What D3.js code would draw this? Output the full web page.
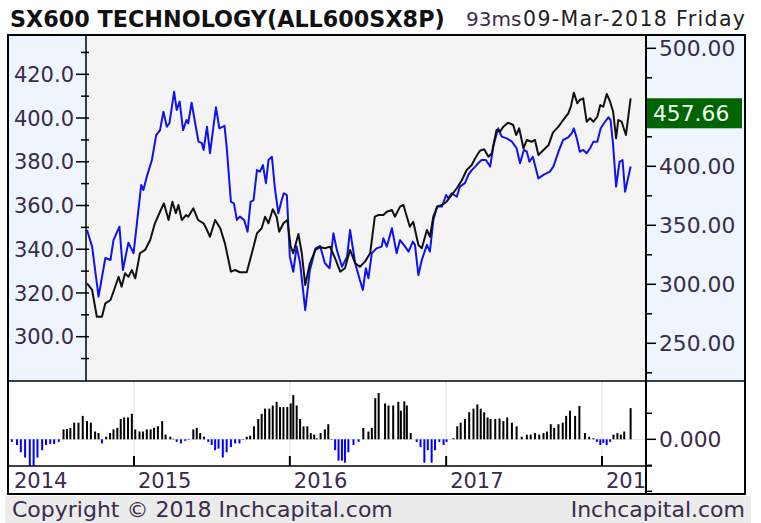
<!DOCTYPE html>
<html>
<head>
<meta charset="utf-8">
<script src="https://cdn.jsdelivr.net/npm/d3@7"></script>
<style>
  body { margin: 0; background: #fff; }
  svg { display: block; font-family: "DejaVu Sans", Verdana, sans-serif; }
</style>
</head>
<body>
<div id="chart"></div>
<script>
// relative strength (blue, left axis)
const blueDates = ["2014-09-13","2014-09-25","2014-10-10","2014-10-26","2014-11-07","2014-11-14","2014-11-28","2014-12-06","2014-12-19","2014-12-31",
  "2015-01-18","2015-01-23","2015-01-31","2015-02-12","2015-02-22","2015-03-03","2015-03-11","2015-03-19","2015-03-25","2015-04-05",
  "2015-04-11","2015-04-18","2015-04-26","2015-05-04","2015-05-08","2015-05-16","2015-05-23","2015-06-01","2015-06-09","2015-06-13",
  "2015-06-21","2015-06-28","2015-07-12","2015-07-20","2015-08-01","2015-08-06","2015-08-16","2015-08-23","2015-08-30","2015-09-06",
  "2015-09-16","2015-09-24","2015-10-01","2015-10-08","2015-10-16","2015-10-23","2015-10-30","2015-11-06","2015-11-12","2015-11-20",
  "2015-11-27","2015-12-05","2015-12-13","2015-12-18","2015-12-25","2016-01-01","2016-01-09","2016-01-17","2016-01-25","2016-02-06",
  "2016-02-17","2016-03-01","2016-03-12","2016-03-23","2016-04-03","2016-04-12","2016-04-20","2016-05-02","2016-05-14","2016-05-21",
  "2016-06-02","2016-06-13","2016-06-20","2016-06-27","2016-07-03","2016-07-11","2016-07-22","2016-08-03","2016-08-07","2016-08-15",
  "2016-08-27","2016-09-07","2016-09-15","2016-09-27","2016-10-05","2016-10-15","2016-10-20","2016-10-28","2016-11-05","2016-11-17",
  "2016-11-24","2016-12-02","2016-12-11","2016-12-22","2017-01-01","2017-01-06","2017-01-14","2017-01-26","2017-02-02","2017-02-14",
  "2017-02-22","2017-03-02","2017-03-10","2017-03-17","2017-03-25","2017-04-04","2017-04-14","2017-04-22","2017-05-03","2017-05-11",
  "2017-05-23","2017-06-04","2017-06-15","2017-06-23","2017-07-02","2017-07-09","2017-07-15","2017-07-23","2017-08-05","2017-08-17",
  "2017-09-01","2017-09-09","2017-09-21","2017-10-02","2017-10-14","2017-10-22","2017-10-27","2017-11-03","2017-11-10","2017-11-18",
  "2017-11-26","2017-12-04","2017-12-12","2017-12-21","2017-12-29","2018-01-08","2018-01-16","2018-01-21","2018-01-27","2018-02-03",
  "2018-02-11","2018-02-18","2018-02-24","2018-03-09"];
const blueValues = [348.8,341.2,318.3,336.0,335.1,344.2,350.3,330.5,343.0,338.2,
  369.4,367.1,373.2,380.8,392.2,394.5,402.9,396.0,397.6,412.0,
  403.7,407.5,394.5,399.1,397.6,407.0,399.1,389.2,388.5,385.4,
  396.0,383.9,404.9,395.3,396.4,386.9,361.7,361.0,353.4,354.9,
  353.4,348.0,361.7,362.5,376.2,375.5,378.5,370.2,380.8,382.3,
  367.9,356.4,362.5,365.6,364.8,336.6,329.7,341.2,333.6,312.2,
  330.5,340.4,341.5,333.6,331.3,347.3,339.7,332.0,336.6,348.8,
  333.6,325.9,321.4,331.3,326.7,338.2,340.4,341.2,345.0,341.2,
  349.6,338.2,344.2,341.2,338.9,343.5,342.0,328.2,335.1,342.0,
  338.9,353.4,359.5,359.5,364.8,363.3,365.6,364.0,368.6,370.2,
  374.0,376.2,377.8,379.3,380.8,380.8,377.8,387.7,395.3,391.5,
  390.7,389.2,386.2,379.3,385.4,384.6,380.0,382.3,372.4,374.0,
  375.5,377.8,384.6,390.0,391.2,393.0,395.3,390.7,384.6,385.4,
  383.9,386.2,389.2,389.2,395.3,398.3,400.3,399.1,387.7,368.6,
  380.0,380.8,366.3,377.8];

// index close (black, right axis)
const blackDates = ["2014-09-13","2014-09-25","2014-10-06","2014-10-18","2014-10-26","2014-11-07","2014-11-14","2014-11-26","2014-12-03","2014-12-11",
  "2014-12-19","2014-12-27","2015-01-04","2015-01-15","2015-01-27","2015-02-08","2015-02-19","2015-03-03","2015-03-12","2015-03-23",
  "2015-04-01","2015-04-09","2015-04-15","2015-04-23","2015-05-03","2015-05-08","2015-05-20","2015-05-31","2015-06-13","2015-06-19",
  "2015-06-28","2015-07-10","2015-07-22","2015-08-02","2015-08-16","2015-08-26","2015-09-06","2015-09-22","2015-10-04","2015-10-16",
  "2015-10-27","2015-11-04","2015-11-12","2015-11-22","2015-12-01","2015-12-07","2015-12-17","2015-12-26","2016-01-03","2016-01-09",
  "2016-01-21","2016-01-29","2016-02-06","2016-02-17","2016-03-01","2016-03-12","2016-03-23","2016-04-04","2016-04-16","2016-04-28",
  "2016-05-09","2016-05-21","2016-06-02","2016-06-13","2016-06-25","2016-07-07","2016-07-18","2016-07-26","2016-08-07","2016-08-15",
  "2016-08-27","2016-09-03","2016-09-15","2016-09-23","2016-10-01","2016-10-08","2016-10-16","2016-10-28","2016-11-05","2016-11-17",
  "2016-11-24","2016-12-02","2016-12-11","2016-12-22","2017-01-02","2017-01-14","2017-01-26","2017-02-07","2017-02-18","2017-03-02",
  "2017-03-10","2017-03-21","2017-03-31","2017-04-10","2017-04-18","2017-04-29","2017-05-07","2017-05-15","2017-05-26","2017-06-07",
  "2017-06-14","2017-06-21","2017-07-01","2017-07-09","2017-07-20","2017-07-28","2017-08-05","2017-08-17","2017-08-29","2017-09-08",
  "2017-09-21","2017-10-02","2017-10-14","2017-10-20","2017-10-27","2017-11-04","2017-11-10","2017-11-18","2017-11-26","2017-12-04",
  "2017-12-12","2017-12-21","2017-12-28","2018-01-04","2018-01-12","2018-01-20","2018-01-27","2018-02-03","2018-02-08","2018-02-16",
  "2018-02-26","2018-03-09"];
const blackValues = [300.8,295.2,272.5,272.5,283.9,286.7,293.7,306.4,298.0,309.3,
  306.4,312.1,305.1,326.3,329.1,337.5,351.7,361.5,368.6,354.5,
  370.0,360.2,367.2,354.5,358.7,357.3,364.4,354.5,351.7,347.5,
  340.3,354.5,347.5,334.7,310.7,312.1,310.2,310.2,326.3,343.2,
  347.5,357.3,351.7,363.6,357.3,344.6,351.7,354.5,331.9,326.3,
  342.6,326.3,299.4,317.8,329.1,331.4,330.5,331.9,322.0,310.7,
  313.6,329.1,317.8,314.9,319.2,326.3,357.3,358.7,358.7,361.5,
  363.0,357.3,365.8,367.2,357.3,348.8,353.0,333.3,330.5,346.0,
  340.3,357.3,365.8,367.2,370.0,375.7,381.4,388.4,396.9,401.1,
  406.8,413.2,414.4,408.1,411.0,430.8,429.3,433.6,437.0,435.0,
  426.5,432.2,415.3,422.3,420.8,422.3,409.6,413.8,418.1,428.5,
  433.6,439.2,444.9,450.5,462.4,453.4,456.2,457.6,437.8,440.7,
  437.8,442.0,451.9,450.5,461.3,454.7,446.3,423.7,439.2,437.8,
  426.5,457.66];

// momentum histogram
const histDates = ["2014-03-21","2014-04-02","2014-04-11","2014-04-21","2014-05-02","2014-05-11","2014-05-20","2014-05-31","2014-06-09","2014-06-19",
  "2014-06-28","2014-07-09","2014-07-20","2014-07-28","2014-08-05","2014-08-14","2014-08-24","2014-09-03","2014-09-13","2014-09-22",
  "2014-10-02","2014-10-10","2014-10-18","2014-10-28","2014-11-06","2014-11-14","2014-11-23","2014-12-01","2014-12-09","2014-12-18",
  "2014-12-27","2015-01-04","2015-01-14","2015-01-22","2015-01-31","2015-02-09","2015-02-17","2015-02-26","2015-03-08","2015-03-16",
  "2015-03-27","2015-04-03","2015-04-11","2015-04-21","2015-05-01","2015-05-09","2015-05-20","2015-05-28","2015-06-05","2015-06-14",
  "2015-06-24","2015-07-02","2015-07-10","2015-07-18","2015-07-28","2015-08-06","2015-08-16","2015-08-26","2015-09-05","2015-09-13",
  "2015-09-22","2015-09-30","2015-10-09","2015-10-19","2015-10-27","2015-11-04","2015-11-14","2015-11-22","2015-12-01","2015-12-09",
  "2015-12-17","2015-12-26","2016-01-03","2016-01-09","2016-01-17","2016-01-25","2016-02-02","2016-02-11","2016-02-19","2016-02-27",
  "2016-03-04","2016-03-13","2016-03-23","2016-03-31","2016-04-08","2016-04-16","2016-04-24","2016-05-02","2016-05-09","2016-05-17",
  "2016-05-29","2016-06-10","2016-06-21","2016-07-03","2016-07-11","2016-07-19","2016-07-27","2016-08-11","2016-08-19","2016-08-30",
  "2016-09-11","2016-09-17","2016-09-25","2016-10-01","2016-10-10","2016-10-24","2016-11-02","2016-11-11","2016-11-19","2016-11-28",
  "2016-12-06","2016-12-16","2016-12-26","2017-01-02","2017-01-18","2017-01-27","2017-02-04","2017-02-14","2017-02-24","2017-03-06",
  "2017-03-15","2017-03-23","2017-03-31","2017-04-08","2017-04-15","2017-04-26","2017-05-06","2017-05-15","2017-05-24","2017-06-04",
  "2017-06-15","2017-06-27","2017-07-09","2017-07-18","2017-07-28","2017-08-07","2017-08-17","2017-08-25","2017-09-03","2017-09-11",
  "2017-09-21","2017-10-01","2017-10-09","2017-10-18","2017-10-30","2017-11-09","2017-11-22","2017-12-02","2017-12-12","2017-12-20",
  "2017-12-28","2018-01-04","2018-01-12","2018-01-20","2018-01-28","2018-02-06","2018-02-14","2018-02-22","2018-03-09"];
const histValues = [-0.005,-0.011,-0.025,-0.035,-0.051,-0.051,-0.035,-0.021,-0.011,-0.009,
  -0.009,-0.005,0.019,0.020,0.022,0.032,0.032,0.045,0.035,0.032,
  0.015,0.012,-0.008,0.005,0.012,0.019,0.022,0.039,0.042,0.042,
  0.049,0.019,0.015,0.015,0.019,0.019,0.022,0.025,0.035,0.009,
  0.005,0.001,-0.005,-0.008,-0.003,-0.001,0.019,0.022,0.012,0.005,
  -0.005,-0.011,-0.021,-0.018,-0.035,-0.025,-0.015,-0.008,-0.008,-0.001,
  0.005,0.007,0.025,0.039,0.049,0.059,0.059,0.065,0.072,0.062,
  0.062,0.062,0.069,0.085,0.065,0.039,0.025,0.025,0.012,0.009,
  0.002,0.012,0.019,0.029,-0.001,-0.021,-0.041,-0.041,-0.045,-0.025,
  -0.011,-0.005,0.022,0.015,0.022,0.079,0.089,0.069,0.065,0.065,
  0.072,0.055,0.073,0.065,0.012,-0.005,-0.015,-0.045,-0.021,-0.045,
  -0.021,-0.005,-0.011,-0.005,0.002,0.025,0.032,0.039,0.052,0.059,
  0.067,0.059,0.052,0.042,0.039,0.039,0.040,0.035,0.042,0.032,
  0.025,0.005,0.009,0.009,0.012,0.009,0.012,0.015,0.029,0.022,
  0.029,0.032,0.045,0.055,0.045,0.064,0.012,0.005,0.002,-0.005,
  -0.011,-0.007,-0.011,-0.005,0.009,0.012,0.009,0.015,0.060];

const leftTicks = [290,300,310,320,330,340,350,360,370,380,390,400,410,420,430];
const leftLabels = [300,320,340,360,380,400,420];
const rightTicks = [225,250,275,300,325,350,375,400,425,450,475,500];
const rightLabels = [250,300,350,400,500];
const histTicks = [-0.1,-0.05,0,0.05];
const yearTicks = ["2015-01-01","2016-01-01","2017-01-01","2018-01-01"];

const parse = d3.utcParse("%Y-%m-%d");
const blue = blueDates.map((d, i) => ({date: parse(d), value: blueValues[i]}));
const black = blackDates.map((d, i) => ({date: parse(d), value: blackValues[i]}));
const hist = histDates.map((d, i) => ({date: parse(d), value: histValues[i]}));

const W = 761, H = 523;
const L = 8, R = 745, T = 35, mainB = 381, histB = 466, B = 494;
const plotL = 86, plotR = 646;
const labelColor = "#3b2a4d";

const x = d3.scaleUtc().domain([parse("2014-03-12"), parse("2018-04-14")]).range([L, plotR]);
const yLeft = d3.scaleLinear().domain([300, 420]).range([336.7, 74.3]);
const yRight = d3.scaleLinear().domain([250, 500]).range([343.3, 48.3]);
const yHist = d3.scaleLinear().domain([-0.05, 0.05]).range([439.3 + 26, 439.3 - 26]);

const svg = d3.select("#chart").append("svg").attr("width", W).attr("height", H);

// header
svg.append("text").attr("x", 10).attr("y", 27)
  .attr("font-size", 22.3).attr("font-weight", "bold").attr("fill", "#111")
  .text("SX600 TECHNOLOGY(ALL600SX8P)");
svg.append("text").attr("x", 466).attr("y", 26)
  .attr("font-size", 20).attr("fill", labelColor)
  .text("93ms");
svg.append("text").attr("x", 523).attr("y", 26)
  .attr("font-size", 20.5).attr("fill", "#222")
  .attr("textLength", 222).attr("lengthAdjust", "spacing")
  .text("09-Mar-2018 Friday");

// panel backgrounds
svg.append("rect").attr("x", 5).attr("y", 496).attr("width", 746).attr("height", 27).attr("fill", "#ebebeb");
svg.append("rect").attr("x", L).attr("y", T).attr("width", plotL - L).attr("height", mainB - T).attr("fill", "#eef5fc");
svg.append("rect").attr("x", plotL).attr("y", T).attr("width", plotR - plotL).attr("height", mainB - T).attr("fill", "#f4f4f4");
svg.append("rect").attr("x", plotR).attr("y", T).attr("width", R - plotR).attr("height", mainB - T).attr("fill", "#eef5fc");

// histogram grid
const hg = svg.append("g");
hg.selectAll("line.v").data(yearTicks).join("line")
  .attr("x1", d => x(parse(d))).attr("x2", d => x(parse(d)))
  .attr("y1", mainB).attr("y2", histB).attr("stroke", "#dedede");
hg.append("line").attr("x1", L).attr("x2", plotR)
  .attr("y1", yHist(0)).attr("y2", yHist(0)).attr("stroke", "#e2e2e2");

// histogram bars
svg.append("g").selectAll("rect").data(hist).join("rect")
  .attr("x", d => x(d.date) - 1)
  .attr("width", 2)
  .attr("y", d => Math.min(yHist(0), yHist(d.value)))
  .attr("height", d => Math.abs(yHist(d.value) - yHist(0)))
  .attr("fill", d => d.value < 0 ? "#0000ff" : "#000");

// price lines
svg.append("clipPath").attr("id", "plot-clip")
  .append("rect").attr("x", plotL).attr("y", T).attr("width", plotR - plotL).attr("height", mainB - T);
const lines = svg.append("g").attr("clip-path", "url(#plot-clip)");
lines.append("path").datum(blue)
  .attr("fill", "none").attr("stroke", "#1010f0").attr("stroke-width", 2).attr("stroke-linejoin", "round")
  .attr("d", d3.line().x(d => x(d.date)).y(d => yLeft(d.value)));
lines.append("path").datum(black)
  .attr("fill", "none").attr("stroke", "#111").attr("stroke-width", 2).attr("stroke-linejoin", "round")
  .attr("d", d3.line().x(d => x(d.date)).y(d => yRight(d.value)));

// left axis
const la = svg.append("g");
la.selectAll("line").data(leftTicks).join("line")
  .attr("x1", d => leftLabels.includes(d) ? plotL - 10 : plotL - 5).attr("x2", plotL + 3)
  .attr("y1", d => yLeft(d)).attr("y2", d => yLeft(d))
  .attr("stroke", "#000").attr("stroke-width", 1.5);
la.selectAll("text").data(leftLabels).join("text")
  .attr("x", plotL - 12).attr("y", d => yLeft(d)).attr("dy", "0.36em")
  .attr("text-anchor", "end").attr("font-size", 21).attr("fill", labelColor)
  .text(d3.format(".1f"));

// right axis
const ra = svg.append("g");
ra.selectAll("line").data(rightTicks).join("line")
  .attr("x1", plotR).attr("x2", d => d % 50 === 0 ? plotR + 10 : plotR + 6)
  .attr("y1", d => yRight(d)).attr("y2", d => yRight(d))
  .attr("stroke", "#000").attr("stroke-width", 1.5);
ra.selectAll("text").data(rightLabels).join("text")
  .attr("x", plotR + 13).attr("y", d => yRight(d)).attr("dy", "0.36em")
  .attr("font-size", 21.8).attr("fill", labelColor)
  .text(d3.format(".2f"));

// histogram right ticks
ra.append("g").selectAll("line").data(histTicks).join("line")
  .attr("x1", plotR).attr("x2", d => d === 0 ? plotR + 10 : plotR + 6)
  .attr("y1", d => yHist(d)).attr("y2", d => yHist(d))
  .attr("stroke", "#000").attr("stroke-width", 1.5);
ra.append("text").attr("x", plotR + 13).attr("y", yHist(0)).attr("dy", "0.36em")
  .attr("font-size", 21.8).attr("fill", labelColor).text(d3.format(".3f")(0));

// last value marker
const last = black[black.length - 1];
svg.append("rect").attr("x", plotR).attr("y", yRight(last.value))
  .attr("width", 96).attr("height", 30).attr("fill", "#006400");
svg.append("text").attr("x", plotR + 7).attr("y", yRight(last.value) + 15).attr("dy", "0.36em")
  .attr("font-size", 21.8).attr("fill", "#f4fff4").text(d3.format(".2f")(last.value));

// x axis (years)
svg.append("clipPath").attr("id", "year-clip")
  .append("rect").attr("x", L).attr("y", histB).attr("width", plotR - L).attr("height", B - histB);
const xa = svg.append("g");
xa.selectAll("line").data(yearTicks).join("line")
  .attr("x1", d => x(parse(d))).attr("x2", d => x(parse(d)))
  .attr("y1", histB - 10).attr("y2", histB).attr("stroke", "#000").attr("stroke-width", 2);
const yearLabels = xa.append("g").attr("clip-path", "url(#year-clip)");
yearLabels.append("text").attr("x", L + 6).attr("y", 488)
  .attr("font-size", 21).attr("fill", labelColor).text(d3.utcFormat("%Y")(x.domain()[0]));
yearLabels.selectAll("text.yr").data(yearTicks).join("text").attr("class", "yr")
  .attr("x", d => x(parse(d)) + 4).attr("y", 488)
  .attr("font-size", 21).attr("fill", labelColor)
  .text(d => d3.utcFormat("%Y")(parse(d)));

// frame
const fr = svg.append("g").attr("stroke", "#000").attr("fill", "none");
fr.append("rect").attr("x", L).attr("y", T).attr("width", R - L).attr("height", B - T).attr("stroke-width", 2);
fr.append("line").attr("x1", L).attr("x2", R).attr("y1", mainB).attr("y2", mainB).attr("stroke-width", 1.5);
fr.append("line").attr("x1", L).attr("x2", plotR + 6).attr("y1", histB).attr("y2", histB).attr("stroke-width", 1.5);
fr.append("line").attr("x1", plotL).attr("x2", plotL).attr("y1", T).attr("y2", mainB).attr("stroke-width", 1.5);
fr.append("line").attr("x1", plotR).attr("x2", plotR).attr("y1", T).attr("y2", B).attr("stroke-width", 2);

// footer
svg.append("text").attr("x", 12).attr("y", 517)
  .attr("font-size", 22).attr("fill", labelColor).text("Copyright \u00a9 2018 Inchcapital.com");
svg.append("text").attr("x", 745).attr("y", 517).attr("text-anchor", "end")
  .attr("font-size", 22).attr("fill", labelColor).text("Inchcapital.com");
</script>
</body>
</html>
